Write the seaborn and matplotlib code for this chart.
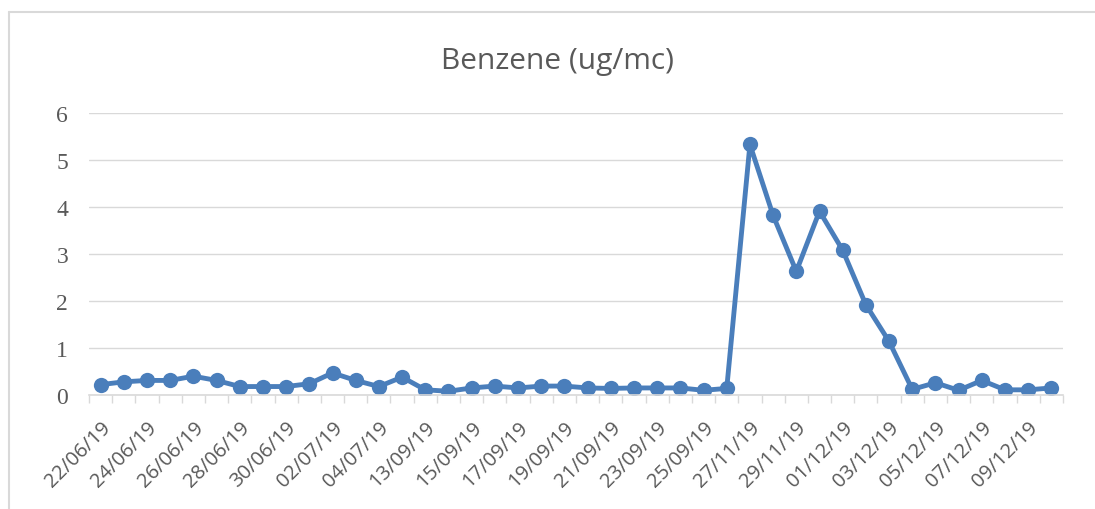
import matplotlib
matplotlib.use("Agg")
import matplotlib.pyplot as plt
import matplotlib.ticker as mt
from matplotlib.lines import Line2D
import seaborn as sns
import pandas as pd

sns.set_theme(style="white")

dates = [
    "22/06/19", "23/06/19", "24/06/19", "25/06/19", "26/06/19", "27/06/19",
    "28/06/19", "29/06/19", "30/06/19", "01/07/19", "02/07/19", "03/07/19",
    "04/07/19", "05/07/19",
    "13/09/19", "14/09/19", "15/09/19", "16/09/19", "17/09/19", "18/09/19",
    "19/09/19", "20/09/19", "21/09/19", "22/09/19", "23/09/19", "24/09/19",
    "25/09/19", "26/09/19",
    "27/11/19", "28/11/19", "29/11/19", "30/11/19", "01/12/19", "02/12/19",
    "03/12/19", "04/12/19", "05/12/19", "06/12/19", "07/12/19", "08/12/19",
    "09/12/19", "10/12/19",
]
benzene = [
    0.22, 0.28, 0.31, 0.31, 0.40, 0.31, 0.18, 0.18, 0.18, 0.24, 0.47, 0.31,
    0.18, 0.38,
    0.11, 0.08, 0.15, 0.19, 0.15, 0.19, 0.19, 0.15, 0.14, 0.15, 0.15, 0.15,
    0.10, 0.14,
    5.33, 3.82, 2.63, 3.91, 3.08, 1.92, 1.14, 0.12, 0.26, 0.10, 0.31, 0.11,
    0.11, 0.15,
]

df = pd.DataFrame({"idx": range(len(dates)), "date": dates, "value": benzene})

grey_txt = "#595959"
grid_col = "#d9d9d9"
blue = "#4a7ebb"

fig = plt.figure(figsize=(10.95, 5.1), dpi=100)
ax = fig.add_axes([89 / 1095, 1 - 396 / 510, (1063 - 89) / 1095, (396 - 114) / 510])

sns.lineplot(data=df, x="idx", y="value", ax=ax, color=blue, linewidth=3.5,
             marker="o", markersize=11, markeredgewidth=0)

ax.set_xlim(-0.5, len(dates) - 0.5)
ax.set_ylim(0, 6)
ax.set_xlabel("")
ax.set_ylabel("")

ax.set_xticks(range(0, len(dates), 2))
ax.set_xticklabels(dates[::2], rotation=45, ha="right", rotation_mode="anchor",
                   color=grey_txt, fontsize=14.5, family="Open Sans")
ax.xaxis.set_minor_locator(mt.FixedLocator([i - 0.5 for i in range(len(dates) + 1)]))
ax.tick_params(axis="x", which="major", length=0, pad=16)
ax.tick_params(axis="x", which="minor", length=6, color=grid_col, width=1, bottom=True)

ax.set_yticks(range(0, 7))
ax.set_yticklabels([str(v) for v in range(0, 7)], color=grey_txt, fontsize=17,
                   family="Liberation Serif")
ax.tick_params(axis="y", length=0, pad=15)

ax.yaxis.grid(True, color=grid_col, linewidth=1)
ax.set_axisbelow(True)
for s in ["top", "right", "left"]:
    ax.spines[s].set_visible(False)
ax.spines["bottom"].set_color(grid_col)
ax.spines["bottom"].set_linewidth(1.2)

fig.text(0.509, 1 - 62 / 510, "Benzene (ug/mc)", ha="center", va="center",
         fontsize=21.5, color=grey_txt, family="Open Sans")

# chart border (top and left edges visible)
fig.add_artist(Line2D([9 / 1095, 9 / 1095], [0, 1 - 13 / 510], color=grid_col, lw=1.5,
                      transform=fig.transFigure))
fig.add_artist(Line2D([9 / 1095, 1], [1 - 13 / 510, 1 - 13 / 510], color=grid_col, lw=1.5,
                      transform=fig.transFigure))

fig.savefig("out.png", dpi=100, facecolor="white")
